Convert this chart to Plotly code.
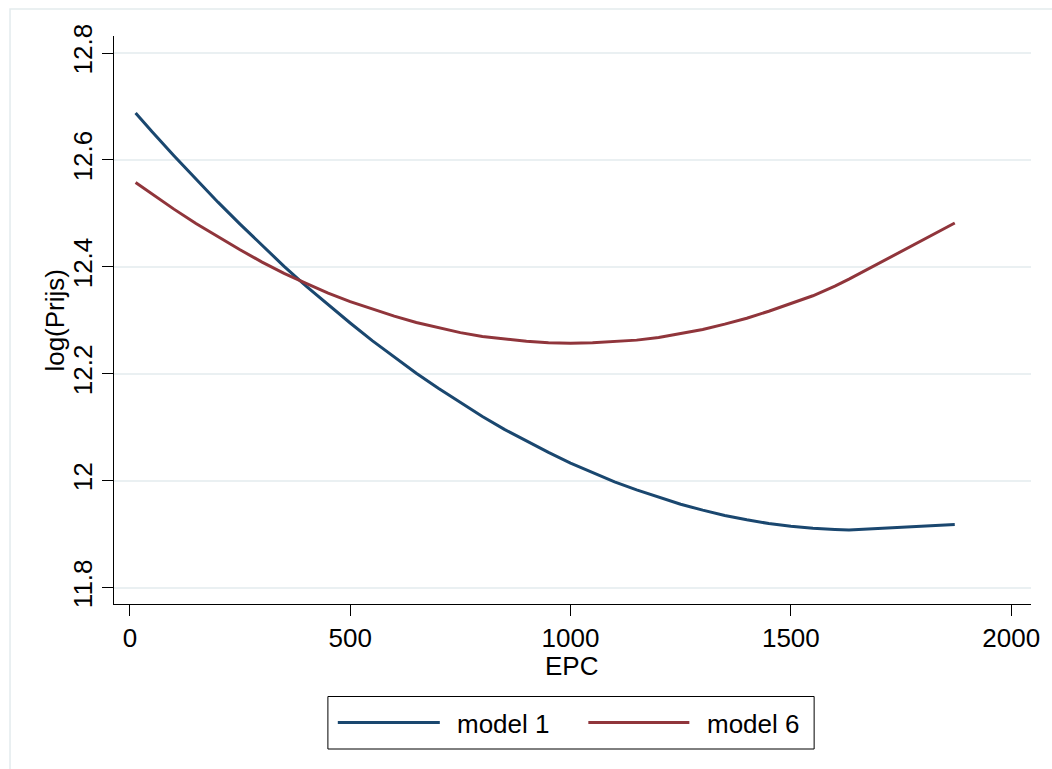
import plotly.graph_objects as go

# EPC values at which the predictions are plotted
epc = [13, 50, 100, 150, 200, 250, 300, 350, 400, 450, 500, 550, 600, 650,
       700, 750, 800, 850, 900, 950, 1000, 1050, 1100, 1150, 1200, 1250,
       1300, 1350, 1400, 1450, 1500, 1550, 1600, 1632, 1872]

# Predicted log(Prijs) per model
model_1 = [12.688, 12.653, 12.608, 12.564, 12.521, 12.480, 12.440, 12.401,
           12.364, 12.329, 12.295, 12.262, 12.231, 12.201, 12.173, 12.146,
           12.120, 12.096, 12.074, 12.053, 12.033, 12.015, 11.998, 11.983,
           11.969, 11.956, 11.945, 11.935, 11.927, 11.920, 11.915, 11.911,
           11.909, 11.908, 11.918]
model_6 = [12.558, 12.536, 12.508, 12.481, 12.456, 12.432, 12.409, 12.388,
           12.369, 12.351, 12.335, 12.321, 12.308, 12.296, 12.286, 12.277,
           12.270, 12.265, 12.261, 12.258, 12.257, 12.258, 12.260, 12.263,
           12.268, 12.275, 12.283, 12.293, 12.304, 12.317, 12.331, 12.346,
           12.364, 12.377, 12.482]

series_names = ["model 1", "model 6"]
series_colors = ["#1A476F", "#90353B"]

x_ticks = [0, 500, 1000, 1500, 2000]
y_ticks = [11.8, 12.0, 12.2, 12.4, 12.6, 12.8]
y_tick_text = ["11.8", "12", "12.2", "12.4", "12.6", "12.8"]

FONT = "Liberation Sans, Arial, Helvetica, sans-serif"
W, H = 1052, 769
L, R, T, B = 114, 1040, 36, 604


def px_x(p):
    return (p - L) / (R - L)


def px_y(p):
    return (B - p) / (B - T)


fig = go.Figure()
for name, ys, color in zip(series_names, [model_1, model_6], series_colors):
    fig.add_trace(go.Scatter(x=epc, y=ys, mode="lines", name=name,
                             line=dict(color=color, width=3),
                             showlegend=False))

axis_common = dict(
    showline=True, linecolor="black", linewidth=1,
    ticks="outside", ticklen=11, tickcolor="black", tickwidth=1,
    zeroline=False, tickfont=dict(family=FONT, size=26, color="black"),
)

fig.update_xaxes(range=[-36, 2045], tickvals=x_ticks, showgrid=False,
                 **axis_common)
fig.update_yaxes(range=[11.7695, 12.8318], tickvals=y_ticks,
                 ticktext=y_tick_text, tickangle=-90, showgrid=True,
                 gridcolor="#EAF0F2", gridwidth=2, **axis_common)

shapes = [
    # outer frame of the graph region (its right and bottom sides run
    # past the page edge)
    dict(type="rect", xref="paper", yref="paper",
         x0=px_x(9), x1=px_x(1070), y0=px_y(790), y1=px_y(9),
         line=dict(color="#E3EBED", width=1.5), layer="below"),
    # legend box
    dict(type="rect", xref="paper", yref="paper",
         x0=px_x(330), x1=px_x(821), y0=px_y(749), y1=px_y(696.5),
         line=dict(color="black", width=1), fillcolor="white"),
]

annotations = [
    dict(text="EPC", xref="paper", yref="paper", x=px_x(576), y=px_y(666),
         xanchor="center", yanchor="middle", showarrow=False,
         font=dict(family=FONT, size=26, color="black")),
    dict(text="log(Prijs)", xref="paper", yref="paper", x=px_x(54),
         y=px_y(320), xanchor="center", yanchor="middle", textangle=-90,
         showarrow=False, font=dict(family=FONT, size=26, color="black")),
]

# legend entries: sample line followed by the series name
legend_items = [(340, 443, 458), (593, 695, 711)]
legend_y = 722.5
for (lx0, lx1, tx), name, color in zip(legend_items, series_names,
                                        series_colors):
    shapes.append(dict(type="line", xref="paper", yref="paper",
                       x0=px_x(lx0), x1=px_x(lx1),
                       y0=px_y(legend_y), y1=px_y(legend_y),
                       line=dict(color=color, width=3)))
    annotations.append(dict(text=name, xref="paper", yref="paper",
                            x=px_x(tx), y=px_y(legend_y + 1),
                            xanchor="left", yanchor="middle",
                            showarrow=False,
                            font=dict(family=FONT, size=26, color="black")))

fig.update_layout(
    width=W, height=H, autosize=False,
    margin=dict(l=L, r=W - R, t=T, b=H - B, pad=0),
    paper_bgcolor="white", plot_bgcolor="white",
    shapes=shapes, annotations=annotations, showlegend=False,
)

fig.write_html("out.html")
